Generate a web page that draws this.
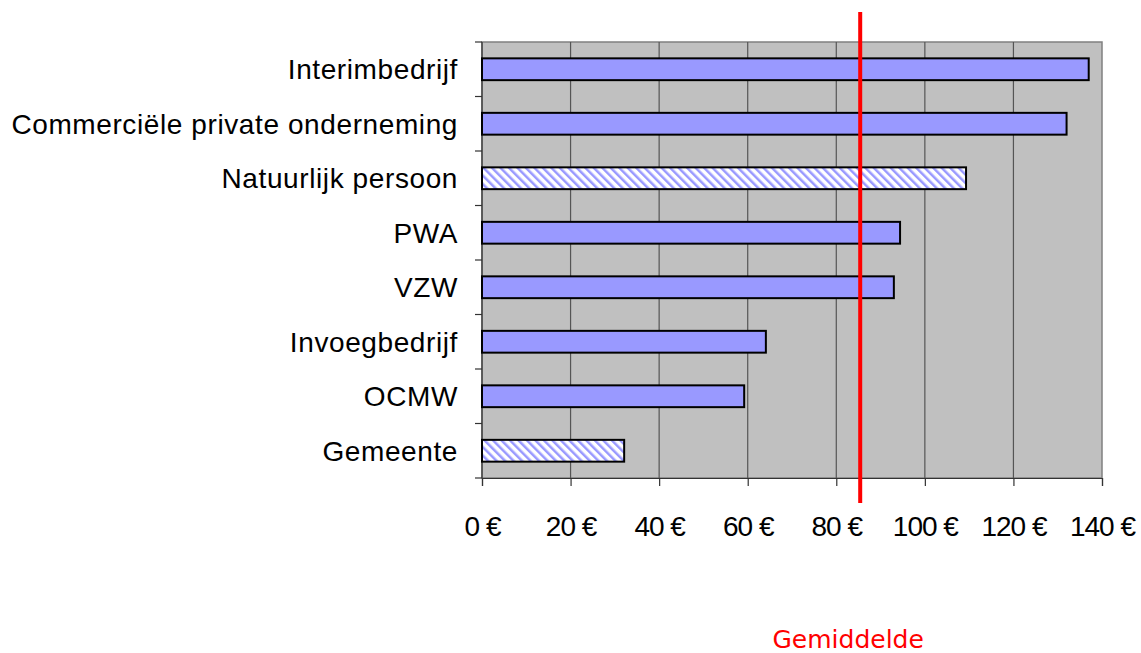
<!DOCTYPE html>
<html>
<head>
<meta charset="utf-8">
<script src="https://cdn.jsdelivr.net/npm/d3@7"></script>
<style>
  body { margin: 0; background: #fff; }
</style>
</head>
<body>
<script>
// data
const categories = [
  "Interimbedrijf",
  "Commerciële private onderneming",
  "Natuurlijk persoon",
  "PWA",
  "VZW",
  "Invoegbedrijf",
  "OCMW",
  "Gemeente",
];
const values = [137, 132, 109.3, 94.4, 93, 64.1, 59.2, 32.1];
const hatched = [false, false, true, false, false, false, false, true];
const xTicks = [0, 20, 40, 60, 80, 100, 120, 140];
const average = 85.4;
const averageLabel = "Gemiddelde";

const width = 1141;
const height = 653;
const marginLeft = 482;
const marginRight = 39;
const marginTop = 42;
const marginBottom = 175; // plot bottom at 478

const svg = d3
  .select("body")
  .append("svg")
  .attr("width", width)
  .attr("height", height);

// hatch pattern
const defs = svg.append("defs");
const pat = defs
  .append("pattern")
  .attr("id", "hatch")
  .attr("patternUnits", "userSpaceOnUse")
  .attr("width", 6)
  .attr("height", 6)
  .attr("patternTransform", "rotate(-45)");
pat.append("rect").attr("width", 6).attr("height", 6).attr("fill", "#fff");
pat
  .append("rect")
  .attr("width", 2.5)
  .attr("height", 6)
  .attr("fill", "#9999ff");

// scales
const xScale = d3
  .scaleLinear()
  .domain([0, 140])
  .range([marginLeft, width - marginRight]);
const yScale = d3
  .scaleBand()
  .domain(categories)
  .range([marginTop, height - marginBottom])
  .paddingInner(0.6)
  .paddingOuter(0.3);

const plotTop = marginTop;
const plotBottom = height - marginBottom;

// plot background
svg
  .append("rect")
  .attr("x", xScale(0))
  .attr("y", plotTop)
  .attr("width", xScale(140) - xScale(0))
  .attr("height", plotBottom - plotTop)
  .attr("fill", "#c0c0c0")
  .attr("stroke", "#808080")
  .attr("stroke-width", 1.5);

// gridlines
svg
  .append("g")
  .selectAll("line")
  .data(xTicks.slice(1, -1))
  .join("line")
  .attr("x1", (d) => xScale(d))
  .attr("x2", (d) => xScale(d))
  .attr("y1", plotTop)
  .attr("y2", plotBottom)
  .attr("stroke", "#555")
  .attr("stroke-width", 1.2);

// x axis
const xAxis = d3
  .axisBottom(xScale)
  .tickValues(xTicks)
  .tickSize(8)
  .tickFormat((d) => d + " €");
svg
  .append("g")
  .attr("transform", `translate(0,${plotBottom})`)
  .call(xAxis)
  .call((g) => g.select(".domain").attr("stroke", "#333").attr("stroke-width", 1.2))
  .call((g) => g.selectAll(".tick line").attr("stroke", "#333").attr("stroke-width", 1.2))
  .call((g) =>
    g
      .selectAll(".tick text")
      .attr("y", 58)
      .attr("dy", 0)
      .attr("font-family", "Liberation Sans, Arial, sans-serif")
      .attr("font-size", 28)
      .attr("letter-spacing", -1)
      .attr("fill", "#000")
  );

// y axis line and ticks at band boundaries
const boundaries = d3.range(categories.length + 1).map((i) => plotTop + ((plotBottom - plotTop) * i) / categories.length);
svg
  .append("line")
  .attr("x1", marginLeft)
  .attr("x2", marginLeft)
  .attr("y1", plotTop)
  .attr("y2", plotBottom)
  .attr("stroke", "#333")
  .attr("stroke-width", 1.2);
svg
  .append("g")
  .selectAll("line")
  .data(boundaries)
  .join("line")
  .attr("x1", marginLeft - 7)
  .attr("x2", marginLeft)
  .attr("y1", (d) => d)
  .attr("y2", (d) => d)
  .attr("stroke", "#333")
  .attr("stroke-width", 1.2);

// category labels
svg
  .append("g")
  .selectAll("text")
  .data(categories)
  .join("text")
  .attr("x", 458)
  .attr("y", (d) => yScale(d) + yScale.bandwidth() / 2 + 10)
  .attr("text-anchor", "end")
  .attr("font-family", "Liberation Sans, Arial, sans-serif")
  .attr("font-size", 28)
  .attr("letter-spacing", 0.6)
  .attr("fill", "#000")
  .text((d) => d);

// bars
svg
  .append("g")
  .selectAll("rect")
  .data(categories)
  .join("rect")
  .attr("x", xScale(0))
  .attr("y", (d) => yScale(d))
  .attr("width", (d, i) => xScale(values[i]) - xScale(0))
  .attr("height", yScale.bandwidth())
  .attr("fill", (d, i) => (hatched[i] ? "url(#hatch)" : "#9999ff"))
  .attr("stroke", "#000")
  .attr("stroke-width", 2);

// average line
svg
  .append("line")
  .attr("x1", xScale(average))
  .attr("x2", xScale(average))
  .attr("y1", 12)
  .attr("y2", 503)
  .attr("stroke", "#ff0000")
  .attr("stroke-width", 4);

svg
  .append("text")
  .attr("x", xScale(average) - 12)
  .attr("y", 648)
  .attr("text-anchor", "middle")
  .attr("font-family", "DejaVu Sans, sans-serif")
  .attr("font-size", 25)
  .attr("fill", "#ff0000")
  .text(averageLabel);
</script>
</body>
</html>
